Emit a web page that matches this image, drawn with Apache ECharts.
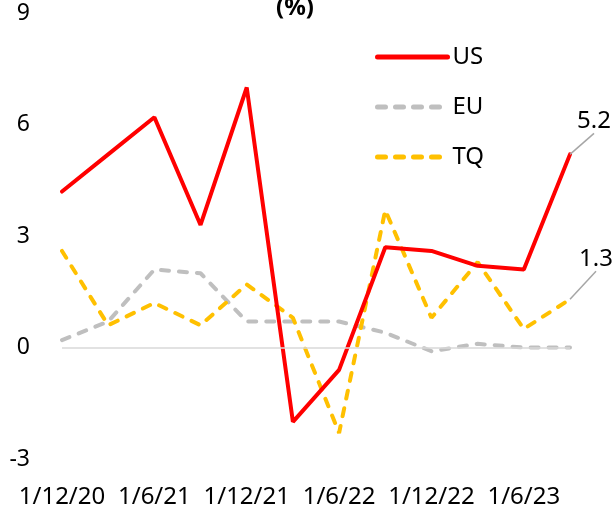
<!DOCTYPE html>
<html>
<head>
<meta charset="utf-8">
<script src="https://cdn.jsdelivr.net/npm/echarts@6/dist/echarts.min.js"></script>
<style>
  html, body { margin: 0; padding: 0; background: #fff; }
  #chart { width: 615px; height: 509px; }
</style>
</head>
<body>
<div id="chart"></div>
<script>
// quarter labels (only every second one is shown on the axis)
const categories = ['1/12/20', '1/3/21', '1/6/21', '1/9/21', '1/12/21', '1/3/22',
  '1/6/22', '1/9/22', '1/12/22', '1/3/23', '1/6/23', '1/9/23']
const usValues = [4.2, 5.2, 6.2, 3.3, 7.0, -2.0, -0.6, 2.7, 2.6, 2.2, 2.1, 5.2]
const euValues = [0.2, 0.7, 2.1, 2.0, 0.7, 0.7, 0.7, 0.4, -0.1, 0.1, 0.0, 0.0]
const tqValues = [2.6, 0.6, 1.2, 0.6, 1.7, 0.8, -2.3, 3.7, 0.8, 2.3, 0.5, 1.3]
const yTicks = [-3, 0, 3, 6, 9]

const FONT = 'Noto Sans'

// only the last point of US and TQ carries a value label
function withLastLabel(values) {
  return values.map((v, i) => {
    if (i !== values.length - 1) return v
    return { value: v, symbol: 'circle', symbolSize: 0.01, label: { show: true } }
  })
}

const chart = echarts.init(document.getElementById('chart'))

const option = {
  animation: false,
  backgroundColor: '#fff',
  textStyle: { fontFamily: FONT },
  title: {
    text: '(%)',
    left: 271,
    top: -9,
    textStyle: { fontSize: 24, fontWeight: 'bold', color: '#000', fontFamily: FONT }
  },
  legend: {
    orient: 'vertical',
    left: 370,
    top: 38,
    itemWidth: 70,
    itemHeight: 28,
    itemGap: 22,
    itemStyle: { opacity: 0 },
    lineStyle: { width: 5, cap: 'round' },
    textStyle: { fontSize: 24, color: '#000', lineHeight: 28, fontFamily: FONT },
    data: ['US', 'EU', 'TQ']
  },
  grid: { left: 62, right: 45, top: 13.2, bottom: 49.4 },
  xAxis: {
    type: 'category',
    data: categories,
    boundaryGap: false,
    axisLine: { show: false, onZero: false },
    axisTick: { show: false },
    axisLabel: {
      interval: 1,
      fontSize: 24,
      color: '#000',
      margin: 26,
      fontFamily: FONT
    }
  },
  yAxis: {
    type: 'value',
    min: yTicks[0],
    max: yTicks[yTicks.length - 1],
    interval: 3,
    splitLine: { show: false },
    axisLine: { show: false },
    axisTick: { show: false },
    axisLabel: { fontSize: 23, color: '#000', margin: 32, fontFamily: FONT }
  },
  series: [
    {
      name: 'US',
      type: 'line',
      data: withLastLabel(usValues),
      symbol: 'none',
      lineStyle: { color: '#ff0000', width: 4, cap: 'round' },
      itemStyle: { color: '#ff0000' },
      label: { show: false, position: 'top', fontSize: 24, color: '#000', fontFamily: FONT },
      labelLine: { show: true, lineStyle: { color: '#a6a6a6', width: 1.5 } },
      labelLayout: { dx: 24, dy: -16 },
      markLine: {
        silent: true,
        symbol: 'none',
        label: { show: false },
        lineStyle: { color: '#d9d9d9', width: 1.5, type: 'solid' },
        data: [{ yAxis: 0 }]
      },
      z: 4
    },
    {
      name: 'EU',
      type: 'line',
      data: euValues,
      symbol: 'none',
      lineStyle: { color: '#bfbfbf', width: 4, type: [8, 10], cap: 'round' },
      itemStyle: { color: '#bfbfbf' },
      z: 2
    },
    {
      name: 'TQ',
      type: 'line',
      data: withLastLabel(tqValues),
      symbol: 'none',
      lineStyle: { color: '#ffc000', width: 4, type: [8, 10], cap: 'round' },
      itemStyle: { color: '#ffc000' },
      label: { show: false, position: 'top', fontSize: 24, color: '#000', fontFamily: FONT },
      labelLine: { show: true, lineStyle: { color: '#a6a6a6', width: 1.5 } },
      labelLayout: { dx: 26, dy: -23 },
      z: 3
    }
  ]
}

chart.setOption(option)
</script>
</body>
</html>
